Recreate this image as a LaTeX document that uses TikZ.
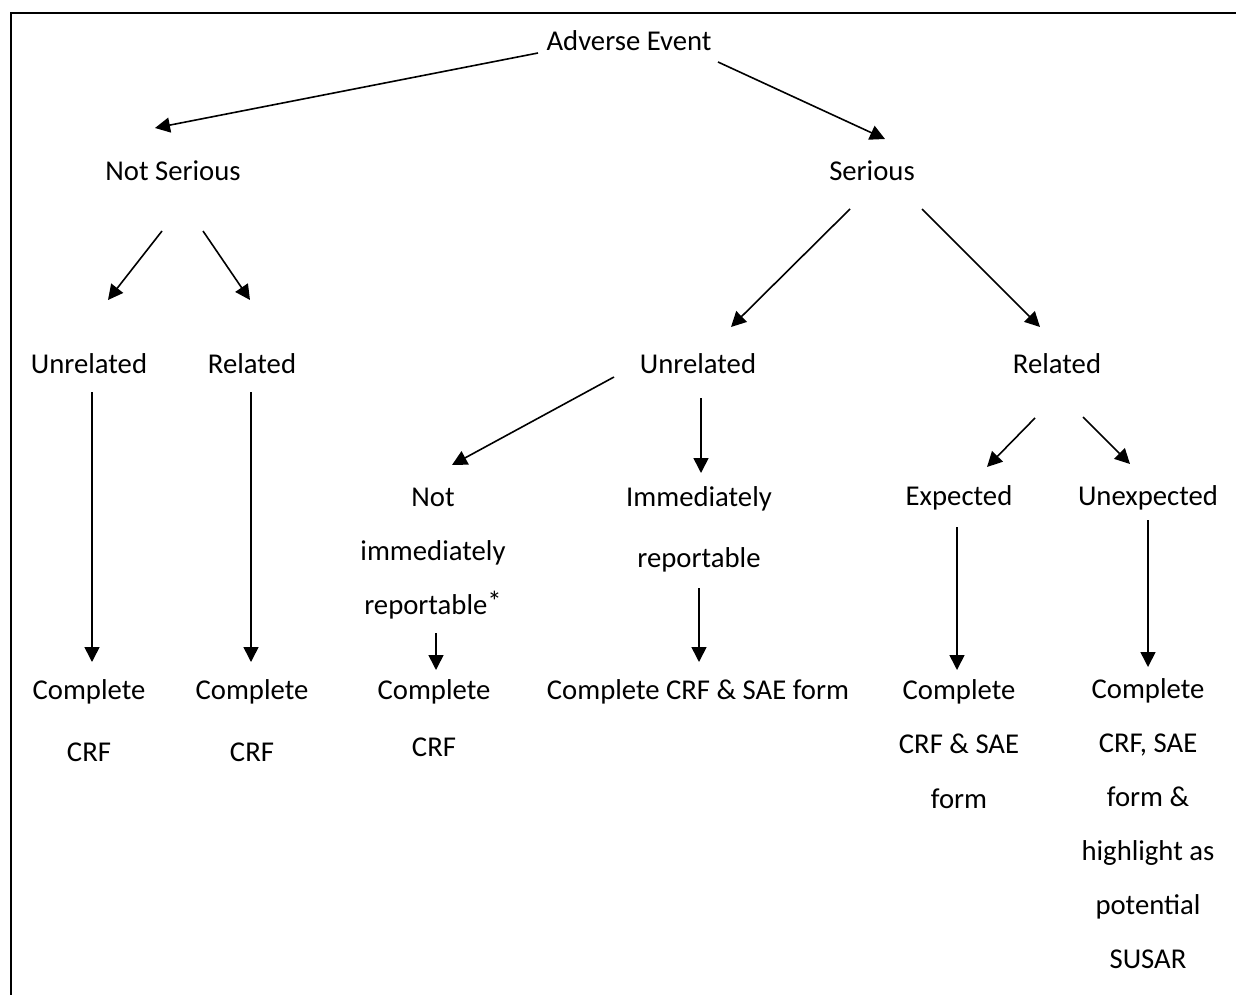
\documentclass[tikz,border=0pt]{standalone}
\usepackage{fontspec}
\setmainfont{Carlito}
\usetikzlibrary{arrows.meta,calc}
\begin{document}
\begin{tikzpicture}[x=1pt,y=-1pt,
  lbl/.style={anchor=base,inner sep=0pt,align=center,font=\fontsize{28.7}{54}\selectfont},
  lblwide/.style={lbl,font=\fontsize{28.7}{61}\selectfont},
  arr/.style={line width=1.6pt,-{Triangle[length=15pt,width=15pt]}},
  frame/.style={line width=2pt}]
\useasboundingbox (0,0) rectangle (1236,995);
\draw[frame] (11,995) -- (11,13) -- (1236,13);
% nodes (anchor base = baseline of the last line)
\node[lbl] (ae) at (629,51) {Adverse Event};
\node[lbl] (ns) at (173,181) {Not Serious};
\node[lbl] (se) at (872,181) {Serious};
\node[lbl] (ur1) at (89,373) {Unrelated};
\node[lbl] (rl1) at (252,373) {Related};
\node[lbl] (ur2) at (698,373) {Unrelated};
\node[lbl] (rl2) at (1057,373) {Related};
\node[lbl] (ni) at (433,614) {Not\\immediately\\reportable\raisebox{0.08em}{*}};
\node[lblwide] (im) at (699,567) {Immediately\\reportable};
\node[lbl] (ex) at (959,505) {Expected};
\node[lbl] (ue) at (1148,505) {Unexpected};
\node[lbl,font=\fontsize{28.7}{62}\selectfont] (c1) at (89,761) {Complete\\CRF};
\node[lbl,font=\fontsize{28.7}{62}\selectfont] (c2) at (252,761) {Complete\\CRF};
\node[lbl,font=\fontsize{28.7}{57}\selectfont] (c3) at (434,756) {Complete\\CRF};
\node[lbl] (c4) at (698,699) {Complete CRF \& SAE form};
\node[lbl,font=\fontsize{28.7}{54.5}\selectfont] (c5) at (959,808) {Complete\\CRF \& SAE\\form};
\node[lbl] (c6) at (1148,968) {Complete\\CRF, SAE\\form \&\\highlight as\\potential\\SUSAR};
% connectors
\draw[arr] ($(ae.base)+(-91,2)$) -- ($(ns.base)+(-18,-53)$);
\draw[arr] ($(ae.base)+(89,11)$) -- ($(se.base)+(13,-42)$);
\draw[arr] ($(ns.base)+(-11,50)$) -- ($(ur1.base)+(19,-73)$);
\draw[arr] ($(ns.base)+(30,50)$) -- ($(rl1.base)+(-2,-73)$);
\draw[arr] ($(ur1.base)+(3,19)$) -- ($(c1.base)+(3,-99)$);
\draw[arr] ($(rl1.base)+(-1,19)$) -- ($(c2.base)+(-1,-99)$);
\draw[arr] ($(se.base)+(-22,28)$) -- ($(ur2.base)+(33,-46)$);
\draw[arr] ($(se.base)+(50,28)$) -- ($(rl2.base)+(-17,-46)$);
\draw[arr] ($(ur2.base)+(-84,4)$) -- ($(ni.base)+(19,-149)$);
\draw[arr] ($(ur2.base)+(3,25)$) -- ($(im.base)+(2,-94)$);
\draw[arr] ($(rl2.base)+(-22,45)$) -- ($(ex.base)+(28,-38)$);
\draw[arr] ($(rl2.base)+(26,44)$) -- ($(ue.base)+(-18,-41)$);
\draw[arr] ($(ni.base)+(3,19)$) -- ($(c3.base)+(2,-86)$);
\draw[arr] ($(im.base)+(0,21)$) -- ($(c4.base)+(1,-37)$);
\draw[arr] ($(ex.base)+(-2,22)$) -- ($(c5.base)+(-2,-138)$);
\draw[arr] ($(ue.base)+(0,15)$) -- ($(c6.base)+(0,-301)$);
\end{tikzpicture}
\end{document}
